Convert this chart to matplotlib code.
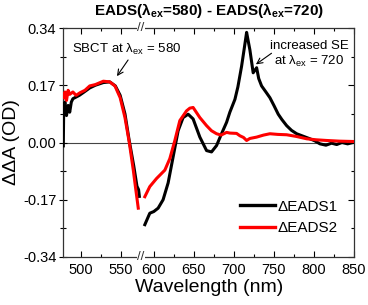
import numpy as np
import matplotlib
matplotlib.use("Agg")
import matplotlib.pyplot as plt
from matplotlib.ticker import FixedLocator, FixedFormatter
import matplotlib.transforms as mtransforms

plt.rcParams['font.family'] = ['Liberation Sans', 'DejaVu Sans']
plt.rcParams['mathtext.fontset'] = 'custom'
plt.rcParams['mathtext.rm'] = 'Liberation Sans'
plt.rcParams['mathtext.it'] = 'Liberation Sans:italic'
plt.rcParams['mathtext.bf'] = 'Liberation Sans:bold'

# ---------------- data ----------------
black_left_nm = [478, 478.5, 480, 482, 484, 486, 488, 490, 494, 498, 504, 511, 518, 528, 536, 543, 549, 555, 560, 566, 570, 572, 573]
black_left_val = [-0.01, 0.10, 0.12, 0.08, 0.11, 0.09, 0.12, 0.13, 0.135, 0.14, 0.15, 0.162, 0.17, 0.178, 0.18, 0.168, 0.14, 0.085, 0.01, -0.07, -0.13, -0.14, -0.16]

red_left_nm = [478.5, 480, 482, 484, 486, 490, 494, 499, 505, 511, 518, 528, 536, 542.5, 549, 555, 560.4, 565.4, 568, 571.6]
red_left_val = [0.133, 0.15, 0.125, 0.155, 0.143, 0.15, 0.14, 0.148, 0.155, 0.168, 0.172, 0.182, 0.18, 0.168, 0.133, 0.074, 0.0, -0.082, -0.13, -0.195]

black_right_nm = [588.8, 595, 600, 605.4, 611.6, 617.9, 624.1, 630.4, 636.6, 642.9, 649.1, 657.5, 665.9, 672.1, 678.4, 684.6, 690.9, 695, 701.3, 705, 709.6, 713, 715.9, 718, 720, 724.1, 728.4, 731, 734.6, 740, 745, 750, 755.4, 760, 765.9, 772, 778.4, 785, 795, 801, 807.5, 815, 822, 828.4, 835, 842, 848.8]
black_right_val = [-0.244, -0.21, -0.205, -0.195, -0.17, -0.12, -0.043, 0.035, 0.074, 0.084, 0.07, 0.016, -0.024, -0.028, -0.009, 0.026, 0.06, 0.09, 0.128, 0.165, 0.226, 0.28, 0.327, 0.30, 0.275, 0.207, 0.222, 0.19, 0.168, 0.15, 0.133, 0.11, 0.084, 0.068, 0.05, 0.036, 0.026, 0.02, 0.011, 0.005, -0.004, -0.008, -0.002, -0.006, 0.0, -0.004, 0.0]

red_right_nm = [588.8, 595, 603.4, 613.8, 620, 626.3, 632.5, 640.9, 645, 649.1, 657.5, 665.9, 672, 678.4, 684, 690.9, 695, 703.4, 707.5, 712, 715.9, 720, 728.4, 737, 745, 755, 765.9, 778, 790.9, 803, 815.9, 832, 848.8]
red_right_val = [-0.161, -0.131, -0.107, -0.082, -0.048, 0.006, 0.065, 0.094, 0.102, 0.104, 0.074, 0.05, 0.035, 0.026, 0.022, 0.03, 0.028, 0.027, 0.02, 0.015, 0.006, 0.012, 0.016, 0.022, 0.026, 0.024, 0.023, 0.018, 0.011, 0.008, 0.006, 0.004, 0.003]

x_major = [500, 550, 600, 650, 700, 750, 800, 850]
x_minor = [525, 625, 675, 725, 775, 825]
y_major = [-0.34, -0.17, 0.0, 0.17, 0.34]
y_major_labels = ["-0.34", "-0.17", "0.00", "0.17", "0.34"]
y_minor = [-0.255, -0.085, 0.085, 0.255]

BREAK_LO, BREAK_HI = 575.0, 584.0
GAP = BREAK_HI - BREAK_LO


def fwd(x):
    x = np.asarray(x, dtype=float)
    return np.where(x <= BREAK_LO, x, np.where(x >= BREAK_HI, x - GAP, BREAK_LO))


def inv(y):
    y = np.asarray(y, dtype=float)
    return np.where(y <= BREAK_LO, y, y + GAP)


W, H = 368, 305
fig = plt.figure(figsize=(W / 100, H / 100), dpi=100)
ax = fig.add_axes([63.3 / W, (H - 257) / H, (354 - 63.3) / W, (257 - 28) / H])
ax.set_xscale('function', functions=(fwd, inv))

ax.axhline(0, color='#444444', lw=0.8, zorder=1)

lw = 2.2
ax.plot(black_left_nm, black_left_val, color='black', lw=lw, zorder=3, label='ΔEADS1')
ax.plot(black_right_nm, black_right_val, color='black', lw=lw, zorder=3)
ax.plot(red_left_nm, red_left_val, color='#ff0000', lw=lw, zorder=4, label='ΔEADS2')
ax.plot(red_right_nm, red_right_val, color='#ff0000', lw=lw, zorder=4)

ax.set_xlim(478, 850)
ax.set_ylim(-0.34, 0.34)

ax.xaxis.set_major_locator(FixedLocator(x_major))
ax.xaxis.set_major_formatter(FixedFormatter([str(v) for v in x_major]))
ax.xaxis.set_minor_locator(FixedLocator(x_minor))
ax.yaxis.set_major_locator(FixedLocator(y_major))
ax.yaxis.set_major_formatter(FixedFormatter(y_major_labels))
ax.yaxis.set_minor_locator(FixedLocator(y_minor))

ax.tick_params(axis='x', which='both', direction='in', top=True, bottom=True,
               labelsize=10.5, pad=4, width=0.8)
ax.tick_params(axis='x', which='major', length=4)
ax.tick_params(axis='x', which='minor', length=2.5)
ax.tick_params(axis='y', which='both', direction='inout', left=True, right=False,
               labelsize=10.5, pad=2, width=0.8)
ax.tick_params(axis='y', which='major', length=6)
ax.tick_params(axis='y', which='minor', length=4)
for s in ax.spines.values():
    s.set_linewidth(0.9)
    s.set_color('#333333')

# right-side inward ticks
axr = ax.secondary_yaxis('right')
axr.yaxis.set_major_locator(FixedLocator(y_major))
axr.yaxis.set_minor_locator(FixedLocator(y_minor))
axr.tick_params(which='both', direction='in', labelright=False, width=0.8)
axr.tick_params(which='major', length=4)
axr.tick_params(which='minor', length=2.5)
axr.spines['right'].set_visible(False)

ax.set_xlabel('Wavelength (nm)', fontsize=14, labelpad=2)
ax.set_ylabel('ΔΔA (OD)', fontsize=14, labelpad=2)

fig.text((63.3 + 354) / 2 / W, 1 - 11 / H,
         r'EADS($\mathbf{\lambda_{ex}}$=580) - EADS($\mathbf{\lambda_{ex}}$=720)',
         ha='center', va='center', fontsize=11, fontweight='bold')

# axis break marks
trans = mtransforms.blended_transform_factory(ax.transData, ax.transAxes)
for yy in (0.0, 1.0):
    ax.text(BREAK_LO + 1, yy, '//', transform=trans, ha='center', va='center',
            fontsize=9.5, color='#333333', clip_on=False, zorder=10,
            bbox=dict(boxstyle='square,pad=0.05', fc='white', ec='none'))

# annotations
ax.text(557, 0.275, r'SBCT at $\mathregular{\lambda_{ex}}$ = 580', ha='center', va='center', fontsize=9.5)
ax.annotate('', xy=(545, 0.197), xytext=(558.9, 0.245),
            arrowprops=dict(arrowstyle='->', lw=0.8, color='black', shrinkA=0, shrinkB=0))
ax.text(793.75, 0.262, 'increased SE\n' + r'at $\mathregular{\lambda_{ex}}$ = 720', ha='center', va='center',
        fontsize=9.5, multialignment='center', linespacing=1.15)
ax.annotate('', xy=(727.5, 0.232), xytext=(747, 0.265),
            arrowprops=dict(arrowstyle='->', lw=0.8, color='black', shrinkA=0, shrinkB=0))

leg = ax.legend(loc='upper left', bbox_to_anchor=((243 - 63.3) / 290.7 - 0.01, 0.25),
                frameon=False, fontsize=11, handlelength=2.3, handletextpad=0.15,
                labelspacing=0.5, borderpad=0, borderaxespad=0)
for h in leg.get_lines():
    h.set_linewidth(2.4)

fig.savefig('out.png', dpi=100)
